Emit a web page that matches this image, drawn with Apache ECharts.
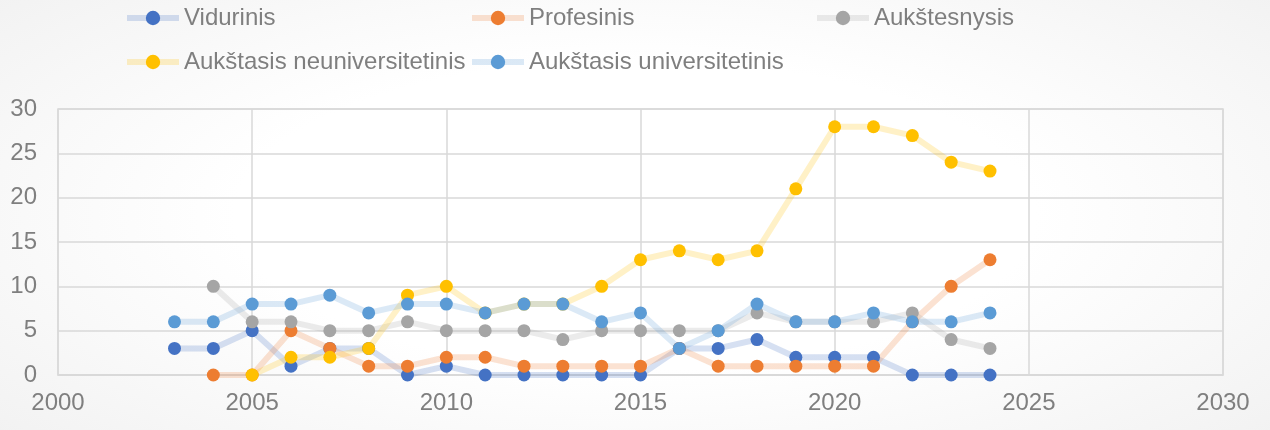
<!DOCTYPE html>
<html>
<head>
<meta charset="utf-8">
<script src="https://cdn.jsdelivr.net/npm/echarts@6/dist/echarts.min.js"></script>
<style>
html,body{margin:0;padding:0;}
body{width:1270px;height:430px;background:radial-gradient(ellipse 70% 80% at 50% 50%, #ffffff 45%, #f1f1f1 100%);}
#c{width:1270px;height:430px;}
</style>
</head>
<body>
<div id="c"></div>
<script>
const years = [2003,2004,2005,2006,2007,2008,2009,2010,2011,2012,2013,2014,2015,2016,2017,2018,2019,2020,2021,2022,2023,2024];
const seriesNames = ['Vidurinis','Profesinis','Aukštesnysis','Aukštasis neuniversitetinis','Aukštasis universitetinis'];
const vidurinis = [3,3,5,1,3,3,0,1,0,0,0,0,0,3,3,4,2,2,2,0,0,0];
const profesinis = [null,0,0,5,3,1,1,2,2,1,1,1,1,3,1,1,1,1,1,6,10,13];
const aukstesnysis = [null,10,6,6,5,5,6,5,5,5,4,5,5,5,5,7,6,6,6,7,4,3];
const neuniversitetinis = [null,null,0,2,2,3,9,10,7,8,8,10,13,14,13,14,21,28,28,27,24,23];
const universitetinis = [6,6,8,8,9,7,8,8,7,8,8,6,7,3,5,8,6,6,7,6,6,7];
const xTicks = [2000,2005,2010,2015,2020,2025,2030];
const yTicks = [0,5,10,15,20,25,30];

const colors = ['#4472C4','#ED7D31','#A5A5A5','#FFC000','#5B9BD5'];
const values = [vidurinis, profesinis, aukstesnysis, neuniversitetinis, universitetinis];

const font = 'Liberation Sans, Arial, sans-serif';
const textColor = '#7f7f7f';
const gridColor = '#d9d9d9';

function pairs(arr){
  const out = [];
  arr.forEach((v,i)=>{ if(v!==null) out.push([years[i], v]); });
  return out;
}

const legendPos = [
  {left:124, top:6}, {left:469, top:6}, {left:814, top:6},
  {left:124, top:50}, {left:469, top:50}
];

const chart = echarts.init(document.getElementById('c'));
chart.setOption({
  backgroundColor: 'transparent',
  animation: false,
  color: colors,
  legend: seriesNames.map((n,i)=>({
    data:[n], left: legendPos[i].left, top: legendPos[i].top,
    itemWidth: 52, itemHeight: 18, itemGap: 6,
    lineStyle:{width:6},
    textStyle:{fontFamily:font, fontSize:24, color:textColor, padding:[0,0,0,0]},
    padding:0, selectedMode:false
  })),
  grid: {left:58, right:47, top:109, bottom:55, show:true, borderColor:gridColor, borderWidth:1.5, backgroundColor:'transparent'},
  xAxis: {
    type:'value', min:xTicks[0], max:xTicks[xTicks.length-1], interval:5,
    axisLine:{show:true, lineStyle:{color:gridColor, width:1.5}},
    axisTick:{show:false},
    splitLine:{show:true, lineStyle:{color:gridColor, width:1.5}},
    axisLabel:{fontFamily:font, fontSize:24, color:textColor, margin:16, formatter: v=>String(v)}
  },
  yAxis: {
    type:'value', min:yTicks[0], max:yTicks[yTicks.length-1], interval:5,
    axisLine:{show:false},
    axisTick:{show:false},
    splitLine:{show:true, lineStyle:{color:gridColor, width:1.5}},
    axisLabel:{fontFamily:font, fontSize:24, color:textColor, margin:21}
  },
  series: seriesNames.map((n,i)=>({
    name:n, type:'line', data:pairs(values[i]),
    symbol:'circle', symbolSize:13,
    itemStyle:{color:colors[i], opacity:1},
    lineStyle:{color:colors[i], width:6, opacity:0.22},
    emphasis:{disabled:true},
    connectNulls:false
  }))
});
</script>
</body>
</html>
